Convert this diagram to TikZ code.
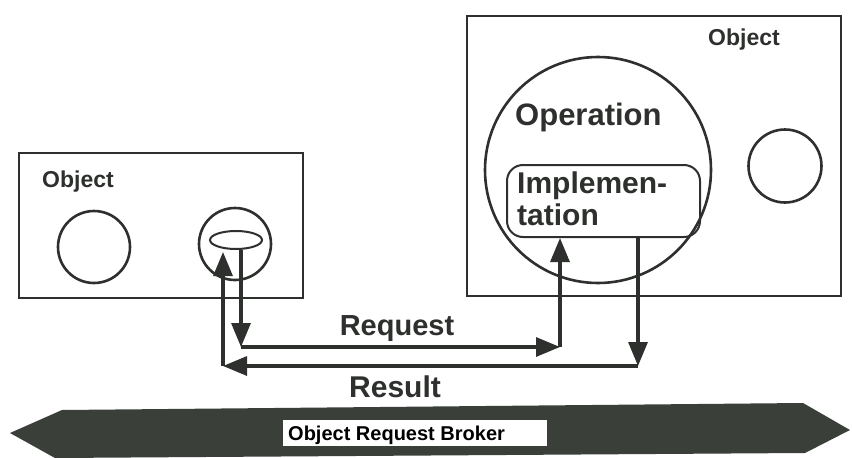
\documentclass[tikz,border=0pt]{standalone}
\usepackage{fontspec}
\setmainfont{Liberation Sans}
\usetikzlibrary{arrows.meta,shapes.geometric}
\definecolor{ink}{RGB}{45,48,45}
\definecolor{band}{RGB}{58,63,58}
\newcommand\fsz[1]{\fontsize{#1}{#1}\selectfont\bfseries}
\begin{document}
\begin{tikzpicture}[x=1pt,y=-1pt,
  box/.style={draw=ink, line width=2pt, inner sep=0pt},
  ring/.style={draw=ink, line width=2.6pt, circle, inner sep=0pt},
  lbl/.style={anchor=base west, text=ink, inner sep=0pt},
  mid/.style={anchor=base, text=ink, inner sep=0pt},
  flow/.style={draw=ink, line width=3.2pt, -{Triangle[length=24pt,width=19pt]}},
]
\useasboundingbox (0,0) rectangle (852,458);
\fill[white] (0,0) rectangle (852,458);
% left object
\node[box, anchor=north west, minimum width=284, minimum height=145] (objL) at (18,152) {};
\node[ring, minimum size=72] (c1) at (94,247) {};
\node[ring, minimum size=72] (c2) at (235,244) {};
\node[ellipse, draw=ink, line width=2pt, minimum width=52, minimum height=18, inner sep=0pt] (ell) at (236,240) {};
\node[lbl, font=\fsz{23}] (tL) at (42,187) {Object};
% right object
\node[box, anchor=north west, minimum width=374, minimum height=280] (objR) at (466,15) {};
\node[ring, minimum size=226] (op) at (598,170) {};
\node[ring, minimum size=73] (c3) at (785,166) {};
\node[box, rounded corners=16, minimum width=193, minimum height=72] (impl) at (603.5,201) {};
\node[lbl, font=\fsz{23}] (tR) at (708,45) {Object};
\node[lbl, font=\fsz{31}] (tOp) at (515,125) {Operation};
\node[lbl, font=\fsz{30}] (tI1) at (517,193) {Implemen-};
\node[lbl, font=\fsz{30}] (tI2) at (517,225) {tation};
% connector corners
\coordinate (a1) at ([xshift=5pt]ell.south);
\coordinate (a2) at (241,347);
\coordinate (a3) at (560,347);
\coordinate (b1) at (638,366);
\coordinate (b2) at (223,366);
% request
\draw[flow] (a1) -- (a2);
\draw[flow] (a2) -- (a3);
\draw[flow] (a3) -- (a3 |- impl.south);
% result
\draw[flow] (b1 |- impl.south) -- (b1);
\draw[flow] (b1) -- (b2);
\draw[flow] (b2) -- ([yshift=-2pt]b2 |- ell.south);
\node[mid, font=\fsz{29}] (tReq) at (397,335) {Request};
\node[mid, font=\fsz{30}] (tRes) at (395,397) {Result};
% object request broker band
\fill[band] (10,433) -- (62,410) -- (803,403) -- (850,430) -- (805,453) -- (55,458) -- cycle;
\node[fill=white, anchor=north west, minimum width=264, minimum height=26, inner sep=0pt] (orb) at (283,420) {};
\node[lbl, font=\fsz{20}, text=black] (torb) at (288,440) {Object Request Broker};
\end{tikzpicture}
\end{document}
